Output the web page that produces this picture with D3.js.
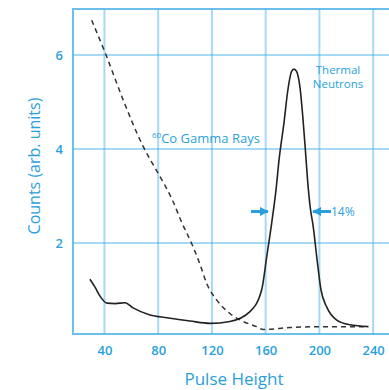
<!DOCTYPE html>
<html>
<head>
<meta charset="utf-8">
<script src="https://cdn.jsdelivr.net/npm/d3@7"></script>
<style>
  body { margin: 0; background: #fff; }
  svg { display: block; font-family: "Open Sans", "Noto Sans", sans-serif; }
</style>
</head>
<body>
<div id="chart"></div>
<script>
var svgWidth = 389;
var svgHeight = 390;

// tick values
var xTicks = [40, 80, 120, 160, 200, 240];
var yTicks = [2, 4, 6];

// thermal neutron curve (pulse height, counts)
var neutronX = [29.2, 33.0, 36.7, 41.9, 47.9, 55.3, 61.3, 73.9, 86.6, 103.7, 118.6, 133.4, 148.3, 157.0, 160.8, 164.5, 167.7, 170.0, 173.6, 176.5, 179.3, 181.1, 183.0, 185.6, 187.6, 189.5, 191.3, 193.2, 195.4, 198.0, 201.2, 205.4, 212.9, 222.8, 236.4];
var neutronY = [1.23, 1.06, 0.87, 0.72, 0.71, 0.73, 0.62, 0.47, 0.41, 0.34, 0.29, 0.33, 0.54, 1.0, 1.71, 2.43, 3.13, 3.78, 4.55, 5.25, 5.65, 5.70, 5.65, 5.30, 4.70, 4.00, 3.30, 2.75, 2.35, 1.71, 1.0, 0.64, 0.36, 0.26, 0.22];

// 60Co gamma curve
var gammaX = [30.5, 41.2, 54.0, 68.9, 77.6, 83.6, 90.8, 97.5, 104.9, 111.1, 116.1, 123.5, 133.4, 143.3, 153.3, 158.2, 178.1, 202.9, 236.4];
var gammaY = [6.74, 6.0, 5.04, 4.05, 3.6, 3.3, 2.9, 2.44, 1.99, 1.55, 1.14, 0.79, 0.5, 0.33, 0.22, 0.16, 0.2, 0.22, 0.22];

var blue = "#2a9fdc";
var gridBlue = "#3aaae6";

var svg = d3.select("#chart").append("svg")
    .attr("width", svgWidth)
    .attr("height", svgHeight);

var plotLeft = 73, plotTop = 9, plotBottom = 334, plotRight = 389;

var xScale = d3.scaleLinear()
    .domain([16.6, 251.8])
    .range([plotLeft, plotRight]);

var yScale = d3.scaleLinear()
    .domain([0.064, 7])
    .range([plotBottom, 8]);

// grid
var grid = svg.append("g");
grid.selectAll(".vgrid")
    .data(xTicks)
    .enter()
    .append("line")
    .attr("x1", d => xScale(d))
    .attr("x2", d => xScale(d))
    .attr("y1", plotTop)
    .attr("y2", plotBottom)
    .attr("stroke", gridBlue)
    .attr("stroke-opacity", 0.45)
    .attr("stroke-width", 2);

grid.selectAll(".hgrid")
    .data(yTicks)
    .enter()
    .append("line")
    .attr("x1", plotLeft)
    .attr("x2", plotRight)
    .attr("y1", d => yScale(d))
    .attr("y2", d => yScale(d))
    .attr("stroke", gridBlue)
    .attr("stroke-opacity", 0.45)
    .attr("stroke-width", 2);

// frame: left, top, bottom
svg.append("path")
    .attr("d", `M${plotRight},${plotTop}H${plotLeft}V${plotBottom}H${plotRight}`)
    .attr("fill", "none")
    .attr("stroke", gridBlue)
    .attr("stroke-opacity", 0.75)
    .attr("stroke-width", 2);

// axes (labels only)
var xAxis = d3.axisBottom(xScale).tickValues(xTicks).tickSize(0).tickPadding(12);
var gx = svg.append("g")
    .attr("transform", `translate(0, ${plotBottom})`)
    .call(xAxis);

var yAxis = d3.axisLeft(yScale).tickValues(yTicks).tickFormat(d3.format("d")).tickSize(0).tickPadding(10);
var gy = svg.append("g")
    .attr("transform", `translate(${plotLeft}, 0)`)
    .call(yAxis);

[gx, gy].forEach(function(g) {
    g.select(".domain").remove();
    g.selectAll("text")
        .attr("fill", blue)
        .attr("font-size", "13px")
        .attr("font-weight", 600)
        .attr("font-family", "'Open Sans', sans-serif");
});

// curves
var neutronData = neutronX.map((x, i) => [x, neutronY[i]]);
var gammaData = gammaX.map((x, i) => [x, gammaY[i]]);

var line = d3.line()
    .x(d => xScale(d[0]))
    .y(d => yScale(d[1]))
    .curve(d3.curveMonotoneX);

svg.append("path")
    .datum(gammaData)
    .attr("d", line)
    .attr("fill", "none")
    .attr("stroke", "#333")
    .attr("stroke-width", 1.5)
    .attr("stroke-dasharray", "5,4");

svg.append("path")
    .datum(neutronData)
    .attr("d", line)
    .attr("fill", "none")
    .attr("stroke", "#222")
    .attr("stroke-width", 1.6);

// annotations
var gammaLabel = svg.append("text")
    .attr("x", 152)
    .attr("y", 143)
    .attr("fill", blue)
    .attr("font-size", "13px");
gammaLabel.append("tspan")
    .attr("font-size", "8px")
    .attr("dy", -5)
    .text("60");
gammaLabel.append("tspan")
    .attr("dy", 5)
    .text("Co Gamma Rays");

svg.append("text")
    .attr("x", 338)
    .attr("y", 74)
    .attr("text-anchor", "middle")
    .attr("fill", blue)
    .attr("font-size", "11.5px")
    .text("Thermal");
svg.append("text")
    .attr("x", 338)
    .attr("y", 88)
    .attr("text-anchor", "middle")
    .attr("fill", blue)
    .attr("font-size", "11.5px")
    .text("Neutrons");

// FWHM arrows
var defs = svg.append("defs");
defs.append("marker")
    .attr("id", "arrow")
    .attr("viewBox", "0 0 10 10")
    .attr("refX", 9)
    .attr("refY", 5)
    .attr("markerWidth", 3)
    .attr("markerHeight", 3)
    .attr("orient", "auto")
    .append("path")
    .attr("d", "M0,0L10,5L0,10Z")
    .attr("fill", blue);

var arrowY = yScale(2.67);
svg.append("line")
    .attr("x1", 251).attr("x2", 268)
    .attr("y1", arrowY).attr("y2", arrowY)
    .attr("stroke", blue).attr("stroke-width", 3)
    .attr("marker-end", "url(#arrow)");
svg.append("line")
    .attr("x1", 331).attr("x2", 313)
    .attr("y1", arrowY).attr("y2", arrowY)
    .attr("stroke", blue).attr("stroke-width", 3)
    .attr("marker-end", "url(#arrow)");
svg.append("text")
    .attr("x", 331)
    .attr("y", arrowY + 4.5)
    .attr("fill", blue)
    .attr("font-size", "12px")
    .text("14%");

// axis titles
svg.append("text")
    .attr("transform", `translate(40, 166) rotate(-90)`)
    .attr("text-anchor", "middle")
    .attr("fill", blue)
    .attr("font-size", "16px")
    .text("Counts (arb. units)");

svg.append("text")
    .attr("x", 234)
    .attr("y", 385)
    .attr("text-anchor", "middle")
    .attr("fill", blue)
    .attr("font-size", "17px")
    .text("Pulse Height");
</script>
</body>
</html>
